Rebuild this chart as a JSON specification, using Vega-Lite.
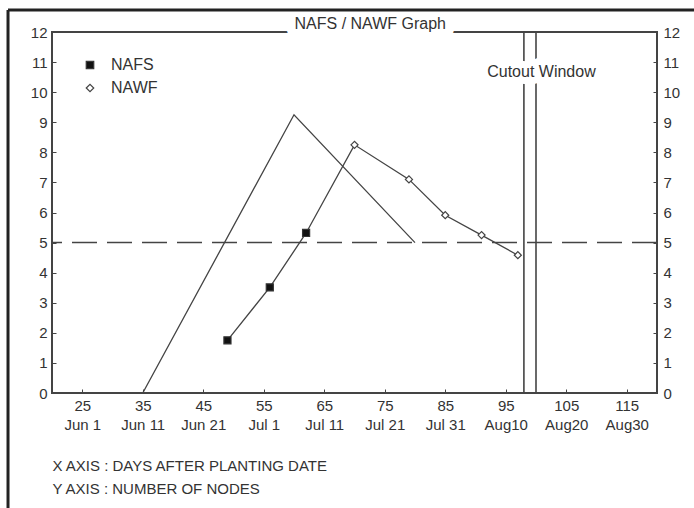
{
  "$schema": "https://vega.github.io/schema/vega-lite/v6.json",
  "autosize": {"type": "none"},
  "padding": {"left": 52, "top": 32, "right": 37, "bottom": 115},
  "width": 605,
  "height": 361,
  "background": "white",
  "config": {
    "font": "Liberation Sans",
    "view": {"stroke": "#444", "strokeWidth": 2}
  },
  "datasets": {
    "target": [
      {"day": 35, "nodes": 0},
      {"day": 60, "nodes": 9.25},
      {"day": 80, "nodes": 5}
    ],
    "obs": [
      {"day": 49, "nodes": 1.75, "type": "NAFS"},
      {"day": 56, "nodes": 3.51, "type": "NAFS"},
      {"day": 62, "nodes": 5.32, "type": "NAFS"},
      {"day": 70, "nodes": 8.25, "type": "NAWF"},
      {"day": 79, "nodes": 7.1, "type": "NAWF"},
      {"day": 85, "nodes": 5.91, "type": "NAWF"},
      {"day": 91, "nodes": 5.25, "type": "NAWF"},
      {"day": 97, "nodes": 4.58, "type": "NAWF"}
    ],
    "cutout": [{"day": 98}, {"day": 100}],
    "labels": [
      {"day": 100.9, "nodes": 10.68, "text": "Cutout Window"}
    ],
    "title": [
      {"day": 72.6, "nodes": 12, "text": "NAFS / NAWF Graph"}
    ],
    "one": [{}]
  },
  "layer": [
    {
      "data": {"name": "one"},
      "mark": {"type": "rule", "strokeDash": [25, 10], "color": "#444", "strokeWidth": 1.5},
      "encoding": {
        "y": {
          "datum": 5, "type": "quantitative",
          "scale": {"domain": [0, 12], "nice": false, "zero": false},
          "axis": {
            "orient": "left", "values": [0,1,2,3,4,5,6,7,8,9,10,11,12],
            "domain": false, "grid": false, "title": null,
            "tickSize": -4, "tickColor": "#444", "labelPadding": 9,
            "labelFontSize": 15, "labelColor": "#333"
          }
        }
      }
    },
    {
      "data": {"name": "cutout"},
      "mark": {"type": "rule", "color": "#444", "strokeWidth": 1.6},
      "encoding": {
        "x": {
          "field": "day", "type": "quantitative",
          "scale": {"domain": [20, 120], "nice": false, "zero": false},
          "axis": {
            "orient": "bottom", "values": [25,35,45,55,65,75,85,95,105,115],
            "domain": false, "grid": false,
            "tickSize": -4, "tickColor": "#444", "labelPadding": 9,
            "labelFontSize": 15, "labelColor": "#333", "labelLineHeight": 19,
            "labelExpr": "[datum.label, datum.value == 25 ? 'Jun 1' : datum.value == 35 ? 'Jun 11' : datum.value == 45 ? 'Jun 21' : datum.value == 55 ? 'Jul  1' : datum.value == 65 ? 'Jul  11' : datum.value == 75 ? 'Jul  21' : datum.value == 85 ? 'Jul  31' : datum.value == 95 ? 'Aug10' : datum.value == 105 ? 'Aug20' : 'Aug30']",
            "title": ["X AXIS : DAYS AFTER PLANTING DATE", "Y AXIS : NUMBER OF NODES"],
            "titleAnchor": "start", "titleAlign": "left", "titleFontSize": 15,
            "titleFontWeight": "normal", "titleLineHeight": 23, "titleColor": "#333",
            "titlePadding": 26
          }
        }
      }
    },
    {
      "data": {"name": "target"},
      "mark": {"type": "line", "color": "#444", "strokeWidth": 1.3},
      "encoding": {
        "x": {"field": "day", "type": "quantitative", "scale": {"domain": [20, 120], "nice": false, "zero": false}},
        "y": {
          "field": "nodes", "type": "quantitative",
          "scale": {"domain": [0, 12], "nice": false, "zero": false},
          "axis": {
            "orient": "right", "values": [0,1,2,3,4,5,6,7,8,9,10,11,12],
            "domain": false, "grid": false, "title": null,
            "tickSize": -4, "tickColor": "#444", "labelPadding": 10,
            "labelFontSize": 15, "labelColor": "#333"
          }
        }
      }
    },
    {
      "data": {"name": "obs"},
      "mark": {"type": "line", "color": "#444", "strokeWidth": 1.3},
      "encoding": {
        "x": {"field": "day", "type": "quantitative", "scale": {"domain": [20, 120], "nice": false, "zero": false}},
        "y": {"field": "nodes", "type": "quantitative", "scale": {"domain": [0, 12], "nice": false, "zero": false}, "axis": null}
      }
    },
    {
      "data": {"name": "obs"},
      "mark": {"type": "point", "filled": true, "strokeWidth": 1.2, "opacity": 1, "size": 50},
      "encoding": {
        "x": {"field": "day", "type": "quantitative", "scale": {"domain": [20, 120], "nice": false, "zero": false}},
        "y": {"field": "nodes", "type": "quantitative", "scale": {"domain": [0, 12], "nice": false, "zero": false}, "axis": null},
        "shape": {
          "field": "type", "type": "nominal",
          "scale": {"domain": ["NAFS", "NAWF"], "range": ["square", "diamond"]},
          "legend": {
            "title": null, "orient": "none", "legendX": 30, "legendY": 25,
            "padding": 0, "labelFontSize": 16, "labelColor": "#333",
            "labelOffset": 13, "rowPadding": 7, "symbolSize": 56, "symbolStrokeWidth": 1.2
          }
        },
        "fill": {
          "field": "type", "type": "nominal",
          "scale": {"domain": ["NAFS", "NAWF"], "range": ["#111", "white"]},
          "legend": {
            "title": null, "orient": "none", "legendX": 30, "legendY": 25,
            "padding": 0, "labelFontSize": 16, "labelColor": "#333",
            "labelOffset": 13, "rowPadding": 7, "symbolSize": 56, "symbolStrokeWidth": 1.2
          }
        },
        "stroke": {
          "field": "type", "type": "nominal",
          "scale": {"domain": ["NAFS", "NAWF"], "range": ["#333", "#444"]},
          "legend": {
            "title": null, "orient": "none", "legendX": 30, "legendY": 25,
            "padding": 0, "labelFontSize": 16, "labelColor": "#333",
            "labelOffset": 13, "rowPadding": 7, "symbolSize": 56, "symbolStrokeWidth": 1.2
          }
        }
      }
    },
    {
      "data": {"name": "labels"},
      "mark": {"type": "text", "fontSize": 16, "align": "center", "baseline": "middle", "stroke": "white", "strokeWidth": 14, "fill": "white", "strokeJoin": "round"},
      "encoding": {
        "x": {"field": "day", "type": "quantitative", "scale": {"domain": [20, 120], "nice": false, "zero": false}},
        "y": {"field": "nodes", "type": "quantitative", "scale": {"domain": [0, 12], "nice": false, "zero": false}, "axis": null},
        "text": {"field": "text"}
      }
    },
    {
      "data": {"name": "labels"},
      "mark": {"type": "text", "fontSize": 16, "align": "center", "baseline": "middle", "color": "#333"},
      "encoding": {
        "x": {"field": "day", "type": "quantitative", "scale": {"domain": [20, 120], "nice": false, "zero": false}},
        "y": {"field": "nodes", "type": "quantitative", "scale": {"domain": [0, 12], "nice": false, "zero": false}, "axis": null},
        "text": {"field": "text"}
      }
    },
    {
      "data": {"name": "title"},
      "mark": {"type": "text", "fontSize": 16, "align": "center", "baseline": "alphabetic", "dy": -3, "stroke": "white", "strokeWidth": 18, "fill": "white", "strokeJoin": "round"},
      "encoding": {
        "x": {"field": "day", "type": "quantitative", "scale": {"domain": [20, 120], "nice": false, "zero": false}},
        "y": {"field": "nodes", "type": "quantitative", "scale": {"domain": [0, 12], "nice": false, "zero": false}, "axis": null},
        "text": {"field": "text"}
      }
    },
    {
      "data": {"name": "title"},
      "mark": {"type": "text", "fontSize": 16, "align": "center", "baseline": "alphabetic", "dy": -3, "color": "#333"},
      "encoding": {
        "x": {"field": "day", "type": "quantitative", "scale": {"domain": [20, 120], "nice": false, "zero": false}},
        "y": {"field": "nodes", "type": "quantitative", "scale": {"domain": [0, 12], "nice": false, "zero": false}, "axis": null},
        "text": {"field": "text"}
      }
    },
    {
      "data": {"name": "one"},
      "mark": {"type": "rule", "color": "#222", "strokeWidth": 3},
      "encoding": {
        "x": {"datum": 12.73, "type": "quantitative", "scale": {"domain": [20, 120], "nice": false, "zero": false}},
        "x2": {"datum": 140},
        "y": {"datum": 12.73, "type": "quantitative", "scale": {"domain": [0, 12], "nice": false, "zero": false}, "axis": null}
      }
    },
    {
      "data": {"name": "one"},
      "mark": {"type": "rule", "color": "#222", "strokeWidth": 3},
      "encoding": {
        "x": {"datum": 12.73, "type": "quantitative", "scale": {"domain": [20, 120], "nice": false, "zero": false}},
        "y": {"datum": 12.73, "type": "quantitative", "scale": {"domain": [0, 12], "nice": false, "zero": false}, "axis": null},
        "y2": {"datum": -5}
      }
    }
  ],
  "resolve": {"axis": {"y": "independent"}}
}
